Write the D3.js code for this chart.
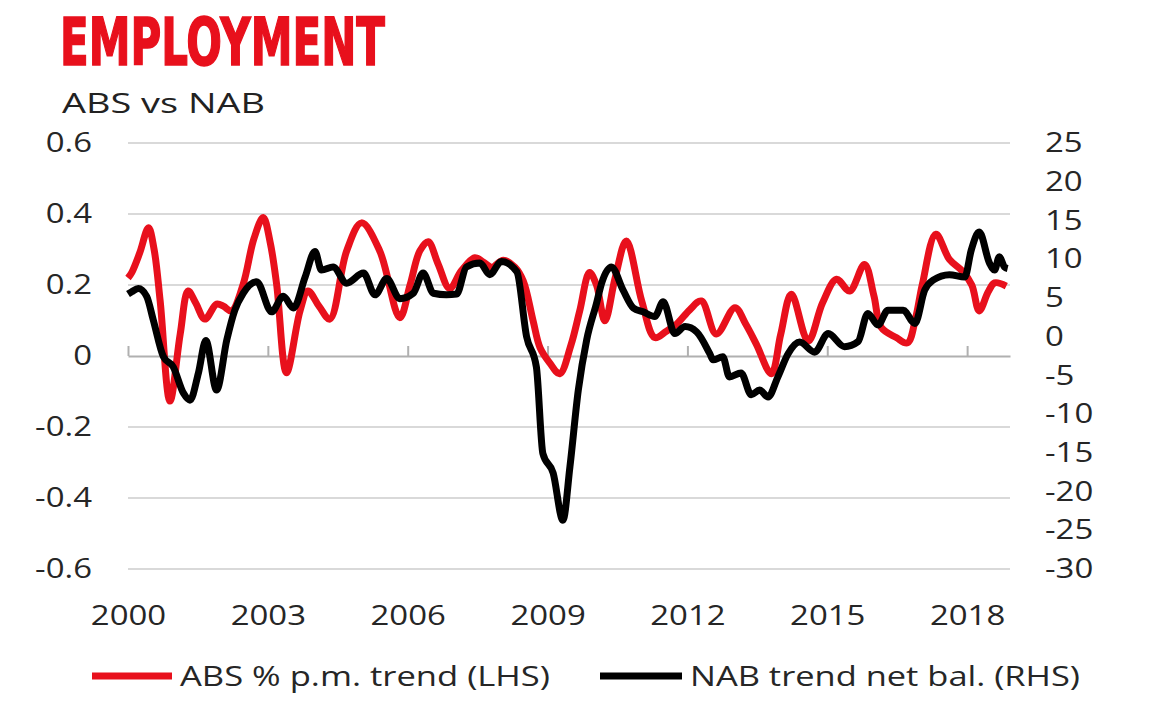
<!DOCTYPE html>
<html>
<head>
<meta charset="utf-8">
<script src="https://cdn.jsdelivr.net/npm/d3@7"></script>
<style>
  body { margin: 0; background: #fff; }
  svg { display: block; }
</style>
</head>
<body>
<div id="chart"></div>
<script>
// ABS % p.m. trend (LHS)
const absYears = [2000.0, 2000.08, 2000.25, 2000.44, 2000.56, 2000.69, 2000.9, 2001.12, 2001.29, 2001.45, 2001.65, 2001.9, 2002.05, 2002.22, 2002.47, 2002.7, 2002.9, 2003.05, 2003.19, 2003.4, 2003.69, 2003.86, 2004.1, 2004.33, 2004.69, 2005.01, 2005.4, 2005.83, 2006.05, 2006.26, 2006.44, 2006.65, 2006.9, 2007.15, 2007.44, 2007.62, 2007.8, 2008.05, 2008.3, 2008.48, 2008.69, 2008.84, 2009.05, 2009.26, 2009.5, 2009.69, 2009.9, 2010.05, 2010.23, 2010.45, 2010.69, 2011.02, 2011.3, 2011.55, 2011.77, 2012.05, 2012.3, 2012.62, 2013.02, 2013.25, 2013.48, 2013.8, 2014.0, 2014.23, 2014.59, 2014.9, 2015.2, 2015.48, 2015.8, 2016.0, 2016.16, 2016.48, 2016.72, 2016.9, 2017.04, 2017.33, 2017.62, 2017.9, 2018.1, 2018.26, 2018.45, 2018.59, 2018.84];
const absValues = [0.22, 0.235, 0.29, 0.361, 0.30, 0.155, -0.127, 0.062, 0.183, 0.15, 0.104, 0.146, 0.14, 0.127, 0.202, 0.33, 0.39, 0.32, 0.20, -0.047, 0.127, 0.183, 0.14, 0.104, 0.296, 0.375, 0.296, 0.108, 0.2, 0.296, 0.322, 0.26, 0.19, 0.24, 0.277, 0.265, 0.25, 0.27, 0.25, 0.211, 0.099, 0.023, -0.02, -0.05, 0.03, 0.127, 0.235, 0.2, 0.099, 0.22, 0.324, 0.155, 0.052, 0.07, 0.09, 0.13, 0.155, 0.062, 0.136, 0.09, 0.033, -0.05, 0.06, 0.174, 0.042, 0.15, 0.216, 0.183, 0.258, 0.17, 0.08, 0.052, 0.037, 0.11, 0.202, 0.343, 0.272, 0.239, 0.2, 0.127, 0.18, 0.206, 0.197];

// NAB trend net balance (RHS)
const nabYears = [2000.0, 2000.08, 2000.22, 2000.4, 2000.54, 2000.76, 2000.97, 2001.19, 2001.33, 2001.51, 2001.67, 2001.9, 2002.12, 2002.29, 2002.47, 2002.76, 2003.08, 2003.33, 2003.55, 2003.8, 2004.01, 2004.15, 2004.4, 2004.69, 2005.05, 2005.3, 2005.55, 2005.83, 2006.12, 2006.33, 2006.55, 2006.83, 2007.05, 2007.26, 2007.55, 2007.76, 2008.01, 2008.34, 2008.55, 2008.76, 2008.9, 2009.12, 2009.33, 2009.48, 2009.66, 2009.84, 2010.05, 2010.16, 2010.37, 2010.62, 2010.84, 2011.05, 2011.3, 2011.48, 2011.73, 2011.95, 2012.2, 2012.48, 2012.55, 2012.76, 2012.9, 2013.15, 2013.37, 2013.55, 2013.73, 2013.94, 2014.16, 2014.41, 2014.73, 2015.02, 2015.37, 2015.66, 2015.87, 2016.09, 2016.3, 2016.63, 2016.88, 2017.09, 2017.27, 2017.62, 2017.95, 2018.09, 2018.26, 2018.48, 2018.59, 2018.69, 2018.8, 2018.87];
const nabValues = [5.5, 5.8, 6.2, 5.2, 2.2, -2.6, -3.9, -7.3, -8.2, -4.7, -0.5, -6.9, -0.4, 3.4, 5.6, 7.1, 3.2, 5.2, 3.7, 7.7, 11.0, 8.6, 9.0, 6.9, 8.2, 5.4, 7.5, 4.9, 5.6, 8.2, 5.6, 5.4, 5.5, 9.0, 9.5, 8.0, 9.7, 8.4, 0.0, -3.9, -15.1, -17.6, -23.7, -16.8, -6.9, -0.4, 4.3, 6.9, 9.0, 6.0, 3.7, 3.2, 2.6, 4.5, 0.4, 1.3, 0.6, -2.2, -3.0, -2.6, -5.2, -4.7, -7.5, -6.9, -7.8, -5.2, -2.2, -0.7, -2.0, 0.4, -1.3, -0.65, 3.0, 1.5, 3.4, 3.4, 1.7, 6.0, 7.3, 8.0, 7.7, 11.2, 13.5, 9.5, 8.6, 10.3, 9.0, 8.8];

const yearTicks = [2000, 2003, 2006, 2009, 2012, 2015, 2018];
const leftTicks = [-0.6, -0.4, -0.2, 0, 0.2, 0.4, 0.6];
const rightTicks = [-30, -25, -20, -15, -10, -5, 0, 5, 10, 15, 20, 25];

const legendLabels = ["ABS % p.m. trend (LHS)", "NAB trend net bal. (RHS)"];

const width = 1160, height = 704;
const red = "#e8101c";
const font = "'Open Sans', sans-serif";
const sx = 1.22; // picture is stretched sideways

const svg = d3.select("#chart").append("svg")
    .attr("width", width)
    .attr("height", height);

const x = d3.scaleLinear().domain([2000, 2018.92]).range([128, 1010]);
const yL = d3.scaleLinear().domain([-0.6, 0.6]).range([569, 143]);
const yR = d3.scaleLinear().domain([-30, 25]).range([569, 143]);

// Title
svg.append("text")
    .attr("x", 60).attr("y", 65)
    .attr("font-family", "'Liberation Sans Narrow', 'DejaVu Sans Condensed', sans-serif")
    .attr("font-weight", "bold")
    .attr("font-size", 66)
    .attr("textLength", 325)
    .attr("lengthAdjust", "spacingAndGlyphs")
    .attr("fill", red)
    .attr("stroke", red)
    .attr("stroke-width", 1.5)
    .text("EMPLOYMENT");

svg.append("text")
    .attr("x", 62).attr("y", 113)
    .attr("font-family", font)
    .attr("font-size", 27)
    .attr("textLength", 203)
    .attr("lengthAdjust", "spacingAndGlyphs")
    .attr("fill", "#222")
    .text("ABS vs NAB");

// Gridlines
svg.append("g")
    .selectAll("line")
    .data(leftTicks.filter(d => d !== 0))
    .enter()
    .append("line")
    .attr("x1", x.range()[0])
    .attr("x2", x.range()[1])
    .attr("y1", d => yL(d))
    .attr("y2", d => yL(d))
    .attr("stroke", "#d9d9d9")
    .attr("stroke-width", 2);

// Zero line with year ticks pointing up
const zeroAxis = svg.append("g")
    .attr("transform", `translate(0,${yL(0)})`)
    .call(d3.axisBottom(x).tickValues(yearTicks).tickSize(-10).tickSizeOuter(0).tickFormat(""));
zeroAxis.selectAll("path, line").attr("stroke", "#b0b0b0").attr("stroke-width", 2);

// Year labels
const xAxis = svg.append("g")
    .attr("transform", "translate(0,600)")
    .call(d3.axisBottom(x).tickValues(yearTicks).tickSize(0).tickFormat(d3.format("d")));
xAxis.select(".domain").remove();
xAxis.selectAll("text")
    .attr("y", 25).attr("dy", 0)
    .attr("font-family", font).attr("font-size", 27).attr("fill", "#262626")
    .attr("transform", `scale(${sx},1)`);

// Left axis (plain hyphen for minus, as in the source)
const leftAxis = svg.append("g")
    .attr("transform", "translate(92,0)")
    .call(d3.axisLeft(yL).tickValues(leftTicks).tickSize(0).tickPadding(0)
        .tickFormat(d => d === 0 ? "0" : d.toFixed(1)));
leftAxis.select(".domain").remove();
leftAxis.selectAll("text")
    .attr("font-family", font).attr("font-size", 27).attr("fill", "#262626")
    .attr("transform", `scale(${sx},1)`);

// Right axis
const rightAxis = svg.append("g")
    .attr("transform", "translate(1045,0)")
    .call(d3.axisRight(yR).tickValues(rightTicks).tickSize(0).tickPadding(0)
        .tickFormat(d => String(d)));
rightAxis.select(".domain").remove();
rightAxis.selectAll("text")
    .attr("font-family", font).attr("font-size", 27).attr("fill", "#262626")
    .attr("transform", `scale(${sx},1)`);

// Lines
const absData = absYears.map((t, i) => [t, absValues[i]]);
const nabData = nabYears.map((t, i) => [t, nabValues[i]]);

svg.append("path")
    .datum(absData)
    .attr("fill", "none")
    .attr("stroke", red)
    .attr("stroke-width", 7)
    .attr("stroke-linejoin", "round")
    .attr("d", d3.line().x(d => x(d[0])).y(d => yL(d[1])).curve(d3.curveCatmullRom));

svg.append("path")
    .datum(nabData)
    .attr("fill", "none")
    .attr("stroke", "#000")
    .attr("stroke-width", 7)
    .attr("stroke-linejoin", "round")
    .attr("d", d3.line().x(d => x(d[0])).y(d => yR(d[1])).curve(d3.curveMonotoneX));

// Legend
const legend = [
    { label: legendLabels[0], color: red, x1: 92, x2: 172, tx: 180, tl: 370 },
    { label: legendLabels[1], color: "#000", x1: 600, x2: 682, tx: 690, tl: 390 }
];
const lg = svg.append("g").selectAll("g").data(legend).enter().append("g");
lg.append("line")
    .attr("x1", d => d.x1).attr("x2", d => d.x2)
    .attr("y1", 676).attr("y2", 676)
    .attr("stroke", d => d.color)
    .attr("stroke-width", 7);
lg.append("text")
    .attr("x", d => d.tx).attr("y", 686)
    .attr("font-family", font).attr("font-size", 27).attr("fill", "#262626")
    .attr("textLength", d => d.tl)
    .attr("lengthAdjust", "spacingAndGlyphs")
    .text(d => d.label);
</script>
</body>
</html>
